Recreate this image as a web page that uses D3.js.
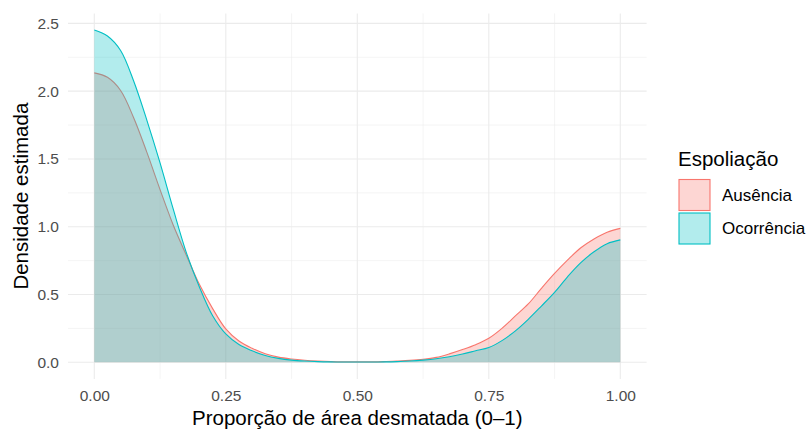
<!DOCTYPE html>
<html><head><meta charset="utf-8">
<script src="https://cdn.jsdelivr.net/npm/d3@7"></script>
<style>body{margin:0;background:#fff}svg{display:block;font-family:"Liberation Sans",Arial,sans-serif}</style>
</head><body><svg id="c" width="808" height="432"></svg>
<script>
const xs = [0,0.025,0.05,0.075,0.1,0.125,0.15,0.175,0.2,0.225,0.25,0.275,0.3,0.325,0.35,0.375,0.4,0.425,0.45,0.475,0.5,0.525,0.55,0.575,0.6,0.625,0.65,0.675,0.7,0.725,0.75,0.775,0.8,0.825,0.85,0.875,0.9,0.925,0.95,0.975,1];
const ausencia = [2.135,2.102,2.005,1.802,1.548,1.274,1.013,0.79,0.573,0.396,0.246,0.157,0.103,0.063,0.038,0.024,0.015,0.009,0.005,0.003,0.003,0.003,0.005,0.009,0.014,0.022,0.036,0.062,0.094,0.13,0.177,0.25,0.34,0.43,0.545,0.655,0.755,0.845,0.91,0.96,0.988];
const ocorrencia = [2.451,2.407,2.30,2.073,1.785,1.471,1.131,0.809,0.554,0.343,0.209,0.131,0.085,0.05,0.029,0.016,0.009,0.005,0.003,0.002,0.002,0.002,0.003,0.005,0.009,0.016,0.026,0.041,0.061,0.085,0.109,0.16,0.23,0.317,0.415,0.516,0.632,0.735,0.815,0.875,0.903];
const groups = ["Ausência","Ocorrência"];
const colors = ["#F8766D","#00BFC4"];
const xTicks = [0,0.25,0.5,0.75,1];
const xTickLabels = ["0.00","0.25","0.50","0.75","1.00"];
const yTicks = [0,0.5,1,1.5,2,2.5];
const yTickLabels = ["0.0","0.5","1.0","1.5","2.0","2.5"];
const xTitle = "Proporção de área desmatada (0–1)";
const yTitle = "Densidade estimada";
const legendTitle = "Espoliação";

const svg = d3.select("#c");
const ymax = d3.max(ocorrencia.concat(ausencia));
const x = d3.scaleLinear().domain([-0.05,1.05]).range([68,646.6]);
const y = d3.scaleLinear().domain([-0.05*ymax, ymax*1.05]).range([378.9,13.4]);
const [L,R] = x.range(), [B,T] = y.range();

const g = svg.append("g");
const xMinor = [0.125,0.375,0.625,0.875];
const yMinor = [0.25,0.75,1.25,1.75,2.25];
g.selectAll(".xm").data(xMinor).join("line").attr("x1",d=>x(d)).attr("x2",d=>x(d)).attr("y1",T).attr("y2",B).attr("stroke","#EBEBEB").attr("stroke-width",0.55);
g.selectAll(".ym").data(yMinor).join("line").attr("y1",d=>y(d)).attr("y2",d=>y(d)).attr("x1",L).attr("x2",R).attr("stroke","#EBEBEB").attr("stroke-width",0.55);
g.selectAll(".xM").data(xTicks).join("line").attr("x1",d=>x(d)).attr("x2",d=>x(d)).attr("y1",T).attr("y2",B).attr("stroke","#EBEBEB").attr("stroke-width",1.1);
g.selectAll(".yM").data(yTicks).join("line").attr("y1",d=>y(d)).attr("y2",d=>y(d)).attr("x1",L).attr("x2",R).attr("stroke","#EBEBEB").attr("stroke-width",1.1);

const series = [ausencia, ocorrencia];
const curve = d3.curveCatmullRom.alpha(0.5);
const area = d3.area().x((d,i)=>x(xs[i])).y0(y(0)).y1(d=>y(Math.max(0,d))).curve(curve);
const line = d3.line().x((d,i)=>x(xs[i])).y(d=>y(d)).curve(curve);
series.forEach((s,k)=>{
  svg.append("path").attr("d",area(s)).attr("fill",colors[k]).attr("fill-opacity",0.3);
  svg.append("path").attr("d",line(s)).attr("fill","none").attr("stroke",colors[k]).attr("stroke-width",1.1);
});

const xa = svg.append("g").attr("transform",`translate(0,${B})`).call(d3.axisBottom(x).tickValues(xTicks).tickFormat((d,i)=>xTickLabels[i]).tickSize(0).tickPadding(11));
xa.select(".domain").remove();
xa.selectAll("text").attr("fill","#4D4D4D").style("font-size","15.5px").style("font-family","Liberation Sans, Arial, sans-serif");
const ya = svg.append("g").attr("transform",`translate(${L},0)`).call(d3.axisLeft(y).tickValues(yTicks).tickFormat((d,i)=>yTickLabels[i]).tickSize(0).tickPadding(9));
ya.select(".domain").remove();
ya.selectAll("text").attr("fill","#4D4D4D").style("font-size","15.5px").style("font-family","Liberation Sans, Arial, sans-serif");

svg.append("text").attr("x",(L+R)/2).attr("y",425).attr("text-anchor","middle").style("font-size","20.5px").attr("fill","#000").text(xTitle);
svg.append("text").attr("transform",`translate(28,${(T+B)/2}) rotate(-90)`).attr("text-anchor","middle").style("font-size","20.5px").attr("fill","#000").text(yTitle);

const lg = svg.append("g");
lg.append("text").attr("x",678).attr("y",166).style("font-size","20.5px").attr("fill","#000").text(legendTitle);
groups.forEach((name,k)=>{
  const ky = 179.5 + k*33.5;
  lg.append("rect").attr("x",679).attr("y",ky).attr("width",31).attr("height",31).attr("fill",colors[k]).attr("fill-opacity",0.3).attr("stroke",colors[k]).attr("stroke-width",1.1);
  lg.append("text").attr("x",722).attr("y",ky+15.5).attr("dy","0.35em").style("font-size","17px").attr("fill","#000").text(name);
});
</script></body></html>
